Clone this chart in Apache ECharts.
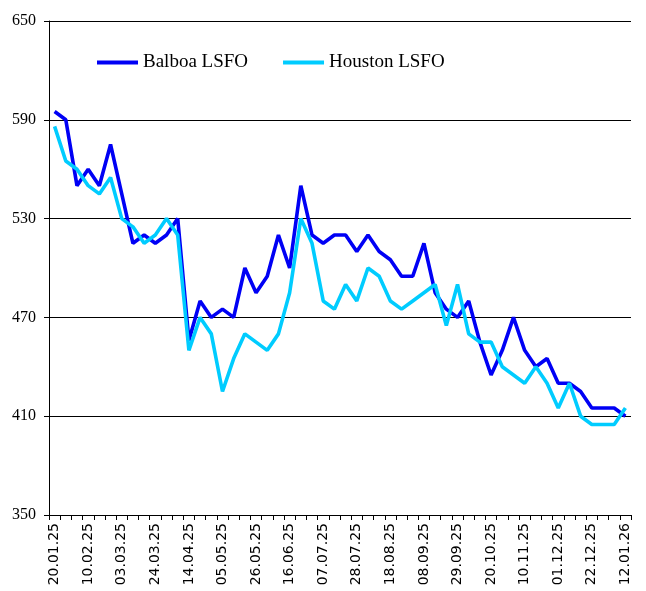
<!DOCTYPE html>
<html>
<head>
<meta charset="utf-8">
<script src="https://cdn.jsdelivr.net/npm/echarts@6/dist/echarts.min.js"></script>
<style>
  html, body { margin: 0; padding: 0; background: #fff; }
  #chart { width: 646px; height: 591px; }
</style>
</head>
<body>
<div id="chart"></div>
<script>
// weekly dates, 20.01.25 .. 12.01.26
const weeks = [
  '20.01.25', '27.01.25', '03.02.25', '10.02.25', '17.02.25', '24.02.25',
  '03.03.25', '10.03.25', '17.03.25', '24.03.25', '31.03.25',
  '07.04.25', '14.04.25', '21.04.25', '28.04.25',
  '05.05.25', '12.05.25', '19.05.25', '26.05.25',
  '02.06.25', '09.06.25', '16.06.25', '23.06.25', '30.06.25',
  '07.07.25', '14.07.25', '21.07.25', '28.07.25',
  '04.08.25', '11.08.25', '18.08.25', '25.08.25',
  '01.09.25', '08.09.25', '15.09.25', '22.09.25', '29.09.25',
  '06.10.25', '13.10.25', '20.10.25', '27.10.25',
  '03.11.25', '10.11.25', '17.11.25', '24.11.25',
  '01.12.25', '08.12.25', '15.12.25', '22.12.25', '29.12.25',
  '05.01.26', '12.01.26'
];

const balboa = [
  595, 590, 550, 560, 550, 575, 545, 515, 520, 515, 520, 530,
  456, 480, 470, 475, 470, 500, 485, 495, 520, 500, 550, 520,
  515, 520, 520, 510, 520, 510, 505, 495, 495, 515, 485, 475,
  470, 480, 455, 435, 450, 470, 450, 440, 445, 430, 430, 425,
  415, 415, 415, 410
];

const houston = [
  586, 565, 560, 550, 545, 555, 530, 525, 515, 520, 530, 520,
  450, 470, 460, 425, 445, 460, 455, 450, 460, 485, 530, 515,
  480, 475, 490, 480, 500, 495, 480, 475, 480, 485, 490, 465,
  490, 460, 455, 455, 440, 435, 430, 440, 430, 415, 430, 410,
  405, 405, 405, 415
];

const yMin = 350;
const yMax = 650;
const yStep = 60;

const chart = echarts.init(document.getElementById('chart'));

chart.setOption({
  animation: false,
  backgroundColor: '#fff',
  grid: { left: 49, right: 15, top: 21, bottom: 76 },
  legend: {
    left: 97,
    top: 53,
    padding: 0,
    icon: 'rect',
    itemWidth: 41,
    itemHeight: 4,
    itemGap: 35,
    textStyle: { fontFamily: 'Liberation Serif', fontSize: 19, color: '#000' },
    data: ['Balboa LSFO', 'Houston LSFO']
  },
  xAxis: {
    type: 'category',
    data: weeks,
    boundaryGap: true,
    axisLine: { lineStyle: { color: '#000', width: 1 } },
    axisTick: { show: true, interval: 0, length: 5, lineStyle: { color: '#000' } },
    axisLabel: {
      interval: 2,
      rotate: 90,
      margin: 8,
      fontFamily: 'DejaVu Sans',
      fontSize: 14,
      color: '#000'
    },
    splitLine: { show: false }
  },
  yAxis: {
    type: 'value',
    min: yMin,
    max: yMax,
    interval: yStep,
    axisLine: { show: true, lineStyle: { color: '#000', width: 1 } },
    axisTick: { show: true, length: 5, lineStyle: { color: '#000' } },
    axisLabel: {
      margin: 13,
      fontFamily: 'Liberation Serif',
      fontSize: 16,
      color: '#000'
    },
    splitLine: { show: true, lineStyle: { color: '#000', width: 1 } }
  },
  series: [
    {
      name: 'Balboa LSFO',
      type: 'line',
      data: balboa,
      symbol: 'none',
      color: '#0000F5',
      lineStyle: { width: 3.6, color: '#0000F5' }
    },
    {
      name: 'Houston LSFO',
      type: 'line',
      data: houston,
      symbol: 'none',
      color: '#00CCFF',
      lineStyle: { width: 3.6, color: '#00CCFF' }
    }
  ]
});

window.addEventListener('resize', () => {
  chart.resize();
});
</script>
</body>
</html>
